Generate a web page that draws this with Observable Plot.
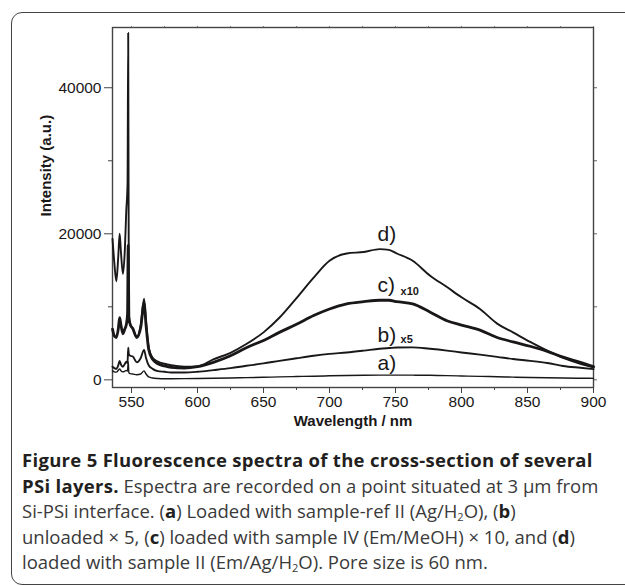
<!DOCTYPE html>
<html><head><meta charset="utf-8">
<script src="https://cdn.jsdelivr.net/npm/d3@7"></script>
<script src="https://cdn.jsdelivr.net/npm/@observablehq/plot@0.6"></script>
<style>
body{margin:0;background:#fff;}
#wrap{position:relative;width:625px;height:586px;overflow:hidden;background:#fff;}
#box{position:absolute;left:11px;top:12px;width:700px;height:571px;border:1.5px solid #444;border-radius:11px;}
#chart{position:absolute;left:0;top:0;}
#caption{position:absolute;left:22px;top:447px;width:603px;font-family:"Open Sans",sans-serif;font-size:18.5px;line-height:25.5px;color:#3a3a3a;white-space:nowrap;}
#caption b{color:#231f20;}
#caption .h{letter-spacing:0.3px;}
#caption .s{font-size:11px;position:relative;top:3px;line-height:0;}
</style></head>
<body>
<div id="wrap">
<div id="box"></div>
<div id="chart"></div>
<div id="caption"><b class="h">Figure 5 Fluorescence spectra of the cross-section of several</b><br><b class="h">PSi layers.</b> Espectra are recorded on a point situated at 3 µm from<br>Si-PSi interface. (<b>a</b>) Loaded with sample-ref II (Ag/H<span class="s">2</span>O), (<b>b</b>)<br>unloaded × 5, (<b>c</b>) loaded with sample IV (Em/MeOH) × 10, and (<b>d</b>)<br>loaded with sample II (Em/Ag/H<span class="s">2</span>O). Pore size is 60 nm.</div>
</div>
<script>
// Wavelength grid (nm)
const wavelength = [535.6, 537, 538.5, 540, 541, 542, 543.5, 545, 546, 547, 547.5, 548, 549, 551, 554, 557, 559.5, 561, 563, 566, 570, 575, 580, 590, 600, 612, 625, 637, 650, 662, 675, 688, 700, 713, 726, 738, 745, 751, 763, 776, 789, 800, 814, 827, 839, 852, 865, 877, 890, 900];
// d) loaded with sample II
const seriesD = [19300, 16000, 13500, 17000, 20000, 17500, 14500, 18000, 23000, 27000, 47500, 9000, 7650, 7000, 5900, 7500, 11100, 8000, 4500, 3000, 2500, 2200, 2000, 1800, 1850, 2800, 3700, 4900, 6500, 8500, 11200, 14000, 16300, 17300, 17500, 17900, 17800, 17300, 16300, 14300, 12700, 11300, 9700, 7700, 6500, 5200, 4000, 3000, 2200, 1700];
// c) x10
const seriesC = [6950, 6000, 5800, 7000, 8500, 7500, 6300, 7000, 7500, 9000, 18400, 8500, 7600, 7000, 5800, 7200, 10500, 7500, 4200, 2800, 2200, 1900, 1700, 1600, 1800, 2400, 3300, 4400, 5400, 6500, 7600, 8800, 9700, 10400, 10700, 10900, 10900, 10700, 10400, 9300, 8100, 7500, 6800, 5800, 5200, 4600, 3900, 3100, 2400, 1800];
// b) x5
const seriesB = [1800, 1600, 1500, 2000, 2600, 2100, 1800, 2200, 2500, 2300, 4400, 3500, 3300, 3200, 2400, 3000, 4100, 3000, 2000, 1500, 1200, 1100, 1000, 1000, 1100, 1330, 1600, 1920, 2250, 2600, 2950, 3290, 3550, 3750, 4000, 4250, 4350, 4430, 4450, 4250, 4000, 3750, 3450, 3150, 2850, 2600, 2300, 1900, 1650, 1470];
// a)
const seriesA = [1230, 1100, 1050, 1300, 1500, 1250, 1100, 1200, 1300, 1200, 2500, 1000, 850, 800, 700, 800, 1230, 800, 400, 250, 180, 150, 150, 160, 180, 210, 250, 300, 350, 400, 450, 500, 550, 590, 620, 640, 650, 650, 640, 620, 570, 530, 480, 420, 370, 320, 280, 250, 220, 200];

const seriesNames = ["a)", "b)", "c)", "d)"];
const seriesScale = ["", "x5", "x10", ""];
const xMajorTicks = [550, 600, 650, 700, 750, 800, 850, 900];
const xMinorTicks = [575, 625, 675, 725, 775, 825, 875];
const yMajorTicks = [0, 20000, 40000];
const yMinorTicks = [10000, 30000];
const xLabel = "Wavelength / nm";
const yLabel = "Intensity (a.u.)";

// annotation anchors (data coordinates)
const labelWl = [736.4, 736.4, 736.4, 736.4];
const labelInt = [2236, 6072, 12920, 19972];
const scaleWl = [753.8, 753.8];
const scaleInt = [5525, 12100];

const allSeries = [seriesA, seriesB, seriesC, seriesD];
const widths = [1.4, 1.9, 2.8, 1.9];
const rows = [];
allSeries.forEach((s, k) => s.forEach((v, i) => rows.push({wl: wavelength[i], v, k})));

const ink = "#1a1718";
const lineMarks = allSeries.map((s, k) =>
  Plot.line(rows.filter(r => r.k === k), {x: "wl", y: "v", stroke: ink, strokeWidth: widths[k], strokeLinejoin: "round", curve: "monotone-x"}));

const names = seriesNames.map((t, i) => ({t, x: labelWl[i], y: labelInt[i]}));
const scales = seriesScale.filter(t => t).map((t, i) => ({t, x: scaleWl[i], y: scaleInt[i]}));

const chart = Plot.plot({
  width: 625, height: 440,
  marginLeft: 112, marginRight: 32, marginTop: 27, marginBottom: 53,
  style: {fontFamily: "'Liberation Sans', Arial, sans-serif", fontSize: "15px", color: ink, background: "transparent"},
  x: {domain: [535.6, 900]},
  y: {domain: [-1050, 48250]},
  marks: [
    Plot.axisX({ticks: xMajorTicks, tickSize: 6, tickPadding: 2, label: null, stroke: "#444", fontSize: 15.5}),
    Plot.axisX({ticks: xMinorTicks, tickSize: 3, tickFormat: () => "", label: null, stroke: "#444"}),
    Plot.axisX({anchor: "top", ticks: xMajorTicks.concat(xMinorTicks), tickSize: 2, tickFormat: () => "", label: null, stroke: "#888"}),
    Plot.axisY({ticks: yMajorTicks, tickSize: 8, tickPadding: 3, tickFormat: d3.format("d"), label: null, stroke: "#444", fontSize: 15.5}),
    Plot.axisY({ticks: yMinorTicks, tickSize: 4, tickFormat: () => "", label: null, stroke: "#444"}),
    Plot.axisY({anchor: "right", ticks: yMajorTicks.concat(yMinorTicks), tickSize: 3, tickFormat: () => "", label: null, stroke: "#666"}),
    Plot.frame({stroke: "#444", strokeWidth: 1.4}),
    ...lineMarks,
    Plot.text(names, {x: "x", y: "y", text: "t", textAnchor: "start", fontSize: 21, fill: ink}),
    Plot.text(scales, {x: "x", y: "y", text: "t", textAnchor: "start", fontSize: 11, fontWeight: "bold", fill: ink}),
    Plot.text([xLabel], {frameAnchor: "bottom", dy: 38, fontSize: 15, fontWeight: "bold", fill: ink}),
    Plot.text([yLabel], {frameAnchor: "left", dx: -66, dy: 9, rotate: -90, fontSize: 15, fontWeight: "bold", fill: ink})
  ]
});
document.getElementById("chart").appendChild(chart);
</script>
</body></html>
